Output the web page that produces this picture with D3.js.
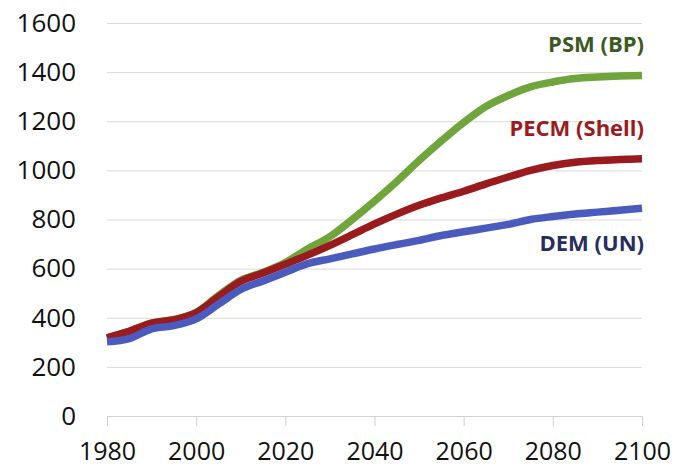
<!DOCTYPE html>
<html>
<head>
<meta charset="utf-8">
<script src="https://cdn.jsdelivr.net/npm/d3@7"></script>
<style>
  body { margin: 0; background: #fff; }
  svg text { font-family: "Open Sans", "Liberation Sans", sans-serif; }
</style>
</head>
<body>
<div id="chart"></div>
<script>
const years = [1980, 1985, 1990, 1995, 2000, 2005, 2010, 2015, 2020, 2025, 2030, 2035, 2040,
               2045, 2050, 2055, 2060, 2065, 2070, 2075, 2080, 2085, 2090, 2095, 2100];

const psmBP = [318, 345, 378, 392, 422, 490, 552, 585, 625, 680, 730, 800, 875,
               955, 1040, 1120, 1195, 1260, 1305, 1340, 1360, 1374, 1380, 1384, 1386];
const pecmShell = [318, 345, 378, 392, 420, 485, 548, 582, 618, 655, 695, 738, 782,
                   822, 858, 888, 915, 945, 973, 1000, 1020, 1033, 1040, 1044, 1047];
const demUN = [302, 315, 355, 368, 395, 455, 515, 550, 585, 620, 640, 660, 680,
               698, 715, 735, 750, 765, 780, 800, 812, 822, 830, 838, 846];

const xTicks = [1980, 2000, 2020, 2040, 2060, 2080, 2100];
const yTicks = [0, 200, 400, 600, 800, 1000, 1200, 1400, 1600];

const seriesNames = ['PSM (BP)', 'PECM (Shell)', 'DEM (UN)'];

function generateGraph() {
    const width = 690;
    const height = 467;
    const margin = { top: 23, right: 48, bottom: 51, left: 107 };
    const chartWidth = width - margin.left - margin.right;
    const chartHeight = height - margin.top - margin.bottom;

    const xScale = d3.scaleLinear().domain([1980, 2100]).range([0, chartWidth]);
    const yScale = d3.scaleLinear().domain([0, 1600]).range([chartHeight, 0]);

    const svg = d3.select('#chart')
        .append('svg')
            .attr('width', width)
            .attr('height', height);

    const g = svg.append('g')
        .attr('transform', `translate(${margin.left}, ${margin.top})`);

    // y-axis with gridlines
    const yAxis = g.append('g')
        .call(d3.axisLeft(yScale)
            .tickValues(yTicks)
            .tickSize(-chartWidth)
            .tickPadding(31)
            .tickFormat(d3.format('d')));
    yAxis.select('.domain').remove();
    yAxis.selectAll('line').attr('stroke', '#d9d9d9');
    yAxis.selectAll('text')
        .attr('font-size', 26)
        .attr('fill', '#111');

    // x-axis
    const xAxis = g.append('g')
        .attr('transform', `translate(0, ${chartHeight})`)
        .call(d3.axisBottom(xScale)
            .tickValues(xTicks)
            .tickSize(10)
            .tickSizeOuter(0)
            .tickPadding(16)
            .tickFormat(d3.format('d')));
    xAxis.select('.domain').attr('stroke', '#d0d0d0');
    xAxis.selectAll('line').attr('stroke', '#d0d0d0');
    xAxis.selectAll('text')
        .attr('font-size', 25)
        .attr('fill', '#111');

    const series = [
        { name: seriesNames[0], values: psmBP, colour: '#70a53c', text: '#3b5a22' },
        { name: seriesNames[1], values: pecmShell, colour: '#9a1b1d', text: '#9b1b20' },
        { name: seriesNames[2], values: demUN, colour: '#4a5bbd', text: '#262e5e' }
    ];

    const line = d3.line()
        .x((d, i) => xScale(years[i]))
        .y(d => yScale(d))
        .curve(d3.curveMonotoneX);

    g.selectAll('path.series')
        .data(series)
        .enter()
            .append('path')
                .attr('class', 'series')
                .attr('d', d => line(d.values))
                .attr('fill', 'none')
                .attr('stroke', d => d.colour)
                .attr('stroke-width', 7.5)
                .attr('stroke-linejoin', 'round');

    // series labels
    const labelValues = [1480, 1140, 670];
    g.selectAll('text.label')
        .data(series)
        .enter()
            .append('text')
                .attr('class', 'label')
                .attr('x', xScale(2100) + 2)
                .attr('y', (d, i) => yScale(labelValues[i]))
                .attr('text-anchor', 'end')
                .attr('font-size', 22)
                .attr('font-weight', 'bold')
                .attr('fill', d => d.text)
                .text(d => d.name);
}

generateGraph();
</script>
</body>
</html>
